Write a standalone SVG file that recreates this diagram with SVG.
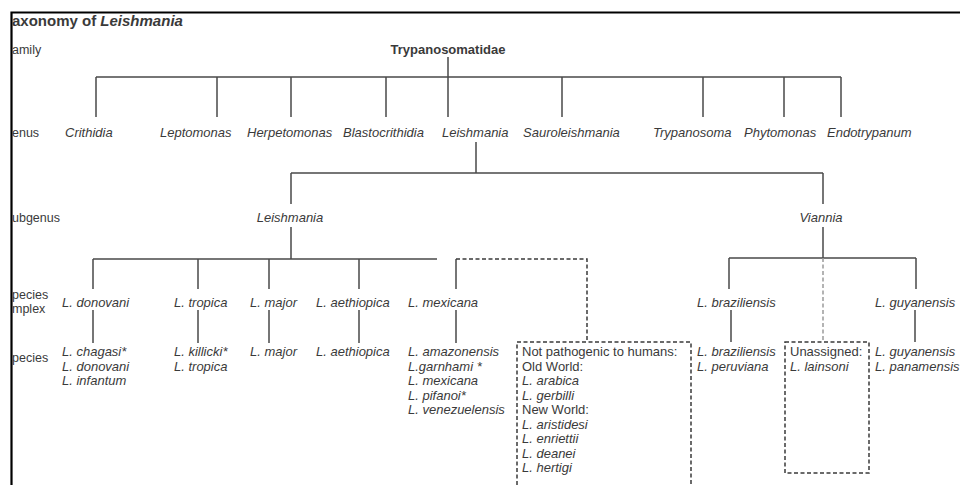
<svg xmlns="http://www.w3.org/2000/svg" width="960" height="485" viewBox="0 0 960 485">
<style>
text{font-family:"Liberation Sans",Arial,sans-serif;font-size:13px;fill:#3a3a3a}
.i{font-style:italic}
.b{font-weight:bold}
.lab{font-size:12.5px}
.ln{stroke:#4a4a4a;stroke-width:1.5;fill:none}
.dash{stroke:#3a3a3a;stroke-width:1.5;fill:none;stroke-dasharray:4 2.5}
.dg{stroke:#9a9a9a;stroke-width:1.5;fill:none;stroke-dasharray:4 2.5}
</style>
<rect width="960" height="485" fill="#fff"/>
<path d="M11.5 485 V12.5 H960" stroke="#000" stroke-width="2.2" fill="none"/>
<text x="12" y="26" class="b" style="font-size:15px">axonomy of <tspan class="i">Leishmania</tspan></text>
<g id="rank-labels">
<text x="12" y="54" class="lab">amily</text>
<text x="12" y="137" class="lab">enus</text>
<text x="12" y="222" class="lab">ubgenus</text>
<text x="12" y="299" class="lab">pecies</text>
<text x="12" y="313" class="lab">mplex</text>
<text x="12" y="362" class="lab">pecies</text>
</g>
<g id="connectors">
<path class="ln" d="M448 57 V117 M96 77 H841 M96 77 V117 M217 77 V117 M291 77 V117 M386 77 V117 M562 77 V117 M703 77 V117 M784 77 V117 M841 77 V117"/>
<path class="ln" d="M476 142 V173 M291 173 H823 M291 173 V204 M823 173 V204"/>
<path class="ln" d="M291 227 V259 M93 259 H437 M93 259 V289 M198 259 V289 M269 259 V289 M359 259 V289 M456 259 V289"/>
<path class="dash" d="M456 259 H587 V340"/>
<path class="ln" d="M823 227 V258 M729 258 H916 M729 258 V289 M916 258 V289"/>
<path class="dg" d="M823 258 V342"/>
<path class="ln" d="M93 310 V343 M198 310 V343 M269 310 V343 M359 310 V343 M456 310 V343 M731 310 V342 M915 310 V342"/>
</g>
<g id="family"><text x="448" y="54" class="b" text-anchor="middle">Trypanosomatidae</text></g>
<g id="genus-crithidia"><text x="65" y="137" class="i">Crithidia</text></g>
<g id="genus-leptomonas"><text x="160" y="137" class="i">Leptomonas</text></g>
<g id="genus-herpetomonas"><text x="247" y="137" class="i">Herpetomonas</text></g>
<g id="genus-blastocrithidia"><text x="343" y="137" class="i">Blastocrithidia</text></g>
<g id="genus-leishmania"><text x="442" y="137" class="i">Leishmania</text></g>
<g id="genus-sauroleishmania"><text x="523" y="137" class="i">Sauroleishmania</text></g>
<g id="genus-trypanosoma"><text x="653" y="137" class="i">Trypanosoma</text></g>
<g id="genus-phytomonas"><text x="744" y="137" class="i">Phytomonas</text></g>
<g id="genus-endotrypanum"><text x="827" y="137" class="i">Endotrypanum</text></g>
<g id="subgenus-leishmania"><text x="290" y="222" class="i" text-anchor="middle">Leishmania</text></g>
<g id="subgenus-viannia"><text x="821" y="222" class="i" text-anchor="middle">Viannia</text></g>
<g id="complex-donovani"><text x="62" y="307" class="i">L. donovani</text></g>
<g id="complex-tropica"><text x="174" y="307" class="i">L. tropica</text></g>
<g id="complex-major"><text x="250" y="307" class="i">L. major</text></g>
<g id="complex-aethiopica"><text x="316" y="307" class="i">L. aethiopica</text></g>
<g id="complex-mexicana"><text x="408" y="307" class="i">L. mexicana</text></g>
<g id="complex-braziliensis"><text x="697" y="307" class="i">L. braziliensis</text></g>
<g id="complex-guyanensis"><text x="875" y="307" class="i">L. guyanensis</text></g>
<g id="species-donovani" class="i"><text x="62" y="356" class="i">L. chagasi*</text><text x="62" y="370.5" class="i">L. donovani</text><text x="62" y="385" class="i">L. infantum</text></g>
<g id="species-tropica"><text x="174" y="356" class="i">L. killicki*</text><text x="174" y="370.5" class="i">L. tropica</text></g>
<g id="species-major"><text x="250" y="356" class="i">L. major</text></g>
<g id="species-aethiopica"><text x="316" y="356" class="i">L. aethiopica</text></g>
<g id="species-mexicana"><text x="408" y="356" class="i">L. amazonensis</text><text x="408" y="370.5" class="i">L.garnhami *</text><text x="408" y="385" class="i">L. mexicana</text><text x="408" y="399.5" class="i">L. pifanoi*</text><text x="408" y="414" class="i">L. venezuelensis</text></g>
<g id="not-pathogenic">
<path class="dash" d="M517 485 V342 H691 V485"/>
<text x="522" y="356">Not pathogenic to humans:</text>
<text x="522" y="370.5">Old World:</text>
<text x="522" y="385" class="i">L. arabica</text>
<text x="522" y="399.5" class="i">L. gerbilli</text>
<text x="522" y="414">New World:</text>
<text x="522" y="428.5" class="i">L. aristidesi</text>
<text x="522" y="443" class="i">L. enriettii</text>
<text x="522" y="457.5" class="i">L. deanei</text>
<text x="522" y="472" class="i">L. hertigi</text>
</g>
<g id="species-braziliensis"><text x="697" y="356" class="i">L. braziliensis</text><text x="697" y="370.5" class="i">L. peruviana</text></g>
<g id="unassigned">
<rect x="785" y="342" width="84" height="131" class="dash"/>
<text x="790" y="356">Unassigned:</text>
<text x="790" y="370.5" class="i">L. lainsoni</text>
</g>
<g id="species-guyanensis"><text x="875" y="356" class="i">L. guyanensis</text><text x="875" y="370.5" class="i">L. panamensis</text></g>
</svg>
